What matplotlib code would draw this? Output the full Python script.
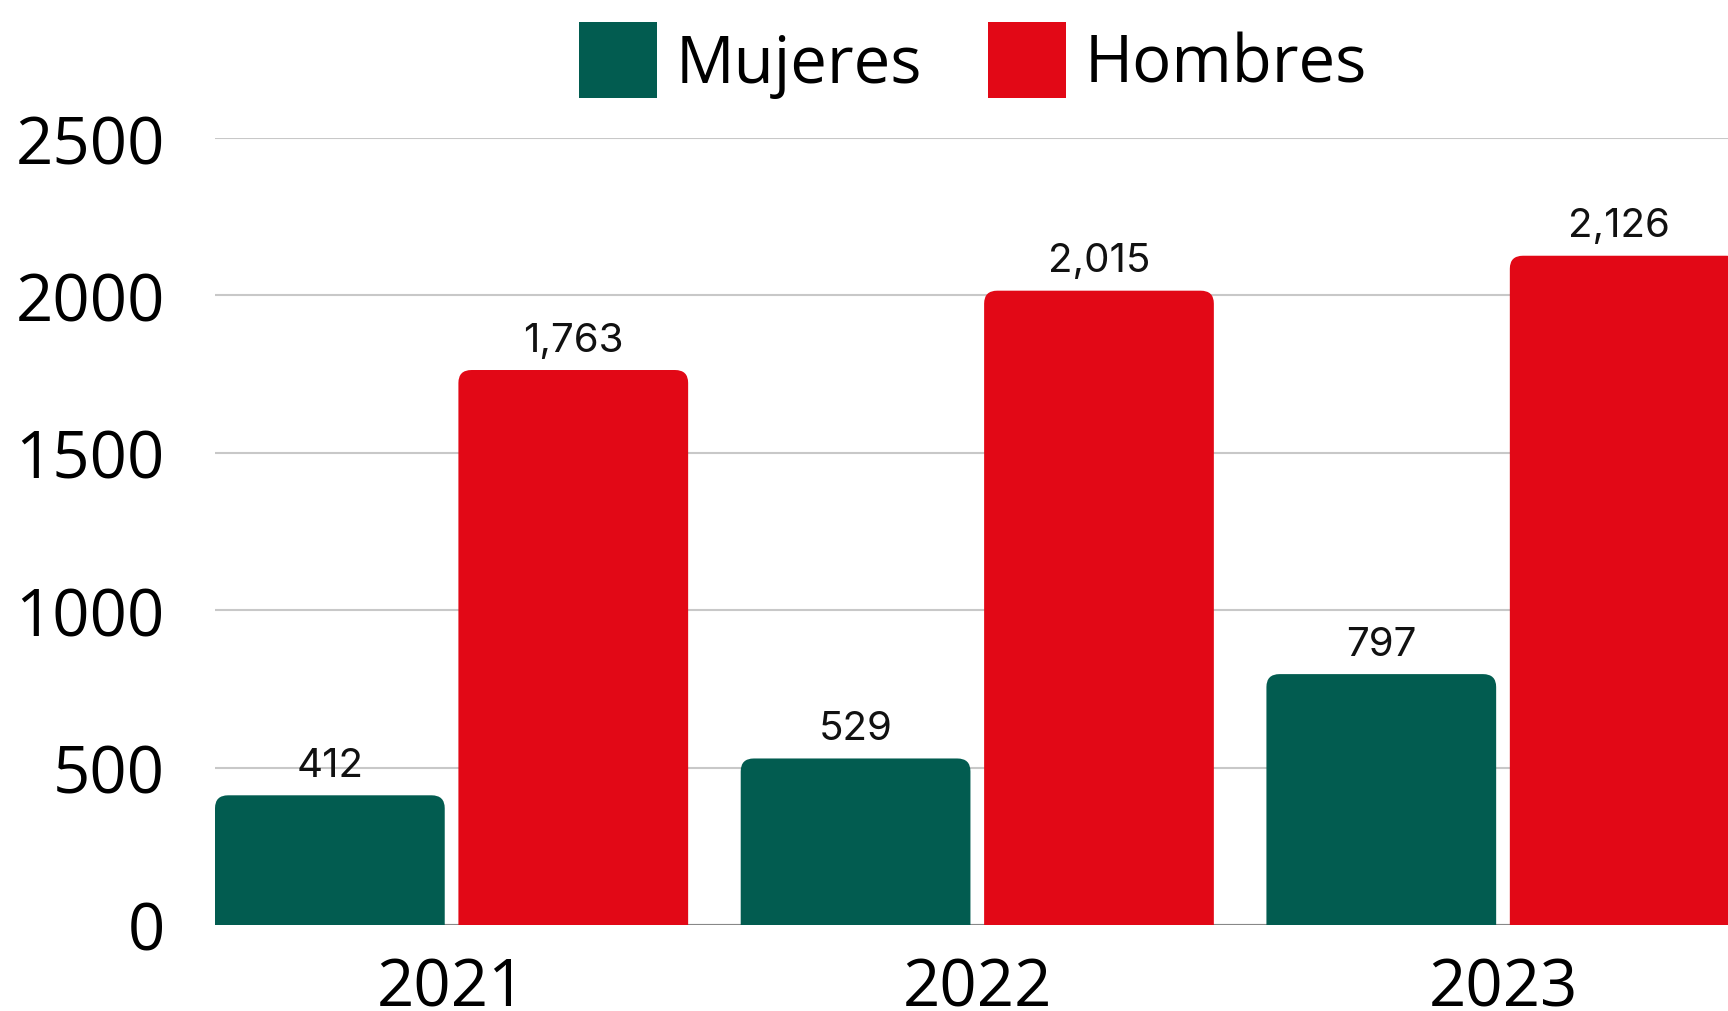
import matplotlib
matplotlib.use("Agg")
import matplotlib.pyplot as plt
from matplotlib.patches import FancyBboxPatch, Patch
import numpy as np

years = ["2021", "2022", "2023"]
mujeres = [412, 529, 797]
hombres = [1763, 2015, 2126]
series_names = ["Mujeres", "Hombres"]
yticks = [0, 500, 1000, 1500, 2000, 2500]

GREEN = "#025C50"
RED = "#E20816"

W, H = 1728, 1012
fig = plt.figure(figsize=(W / 100, H / 100), dpi=100)
left, right, top, bottom = 215, 1728, 139, 926
ax = fig.add_axes([left / W, (H - bottom) / H, (right - left) / W, (bottom - top) / H])

x = np.arange(len(years))
bw = 0.437
off = 0.2315
b1 = ax.bar(x - off, mujeres, bw, color=GREEN, zorder=3)
b2 = ax.bar(x + off, hombres, bw, color=RED, zorder=3)

xmax = 2.428
ax.set_xlim(-off - bw / 2, xmax)
ax.set_ylim(0, 2500)

# replace bars by rounded-top versions
rx = 0.025
ry = 41.0
for bars, col in ((b1, GREEN), (b2, RED)):
    for p in bars:
        p.set_visible(False)
        bx, bwid, bh = p.get_x(), p.get_width(), p.get_height()
        fp = FancyBboxPatch((bx, -ry * 2), bwid, bh + ry * 2,
                            boxstyle=f"round,pad=0,rounding_size={rx}",
                            mutation_aspect=ry / rx, facecolor=col,
                            edgecolor="none", zorder=3, clip_on=True)
        ax.add_patch(fp)

# value labels (centered on visible part of bar)
for bars, vals in ((b1, mujeres), (b2, hombres)):
    for p, v in zip(bars, vals):
        x0 = p.get_x()
        x1 = min(p.get_x() + p.get_width(), xmax)
        ax.annotate(f"{v:,}", ((x0 + x1) / 2, v),
                    xytext=(0, 14), textcoords="offset points",
                    ha="center", va="baseline", fontsize=29,
                    family="Inter", color="#111111", zorder=5)

ax.set_yticks(yticks)
ax.set_yticklabels([str(t) for t in yticks], fontsize=47, family="Open Sans")
ax.set_xticks(x)
ax.set_xticklabels(years, fontsize=47, family="Open Sans")
ax.tick_params(axis="y", length=0, pad=36)
ax.tick_params(axis="x", length=0, pad=22)

for s in ax.spines.values():
    s.set_visible(False)
ax.grid(axis="y", color="#c8c8c8", linewidth=1.5, zorder=0)
ax.set_axisbelow(True)
ax.axhline(0, color="#888888", linewidth=1.5, zorder=2)

handles = [Patch(facecolor=GREEN, edgecolor="none"), Patch(facecolor=RED, edgecolor="none")]
fig.legend(handles, series_names, loc="center", bbox_to_anchor=(973 / W, 1 - 61 / H),
           ncol=2, frameon=False, prop={"family": "Open Sans", "size": 47},
           handlelength=1.2, handleheight=1.42, handletextpad=0.29,
           columnspacing=1.0, borderpad=0, borderaxespad=0)

fig.savefig("out.png", dpi=100)
